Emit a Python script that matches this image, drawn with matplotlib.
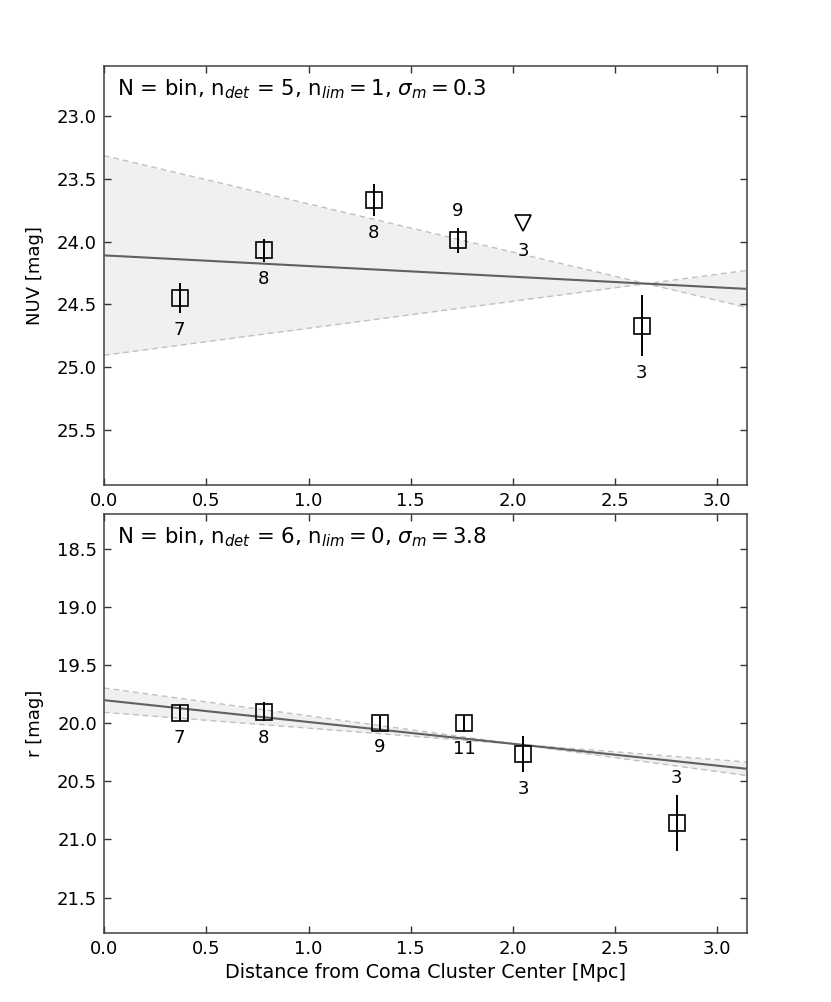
import matplotlib
matplotlib.use('Agg')
import matplotlib.pyplot as plt
import numpy as np

# ---------------- data: NUV panel ----------------
nuv_x = [0.37, 0.78, 1.32, 1.73, 2.63]
nuv_y = [24.45, 24.07, 23.67, 23.99, 24.67]
nuv_err = [0.12, 0.09, 0.13, 0.10, 0.245]
nuv_n = [7, 8, 8, 9, 3]
nuv_label_above = [False, False, False, True, False]
nuv_lim_x = [2.05]
nuv_lim_y = [23.85]
nuv_lim_n = [3]
nuv_fit_intercept = 24.11
nuv_fit_slope = 0.085
nuv_fit_pivot = 2.652
nuv_fit_slope_err = 0.30
nuv_title = r"N = bin, n$_{det}$ = 5, n$_{lim} = 1$, $\sigma_m = 0.3$"

# ---------------- data: r panel ----------------
r_x = [0.37, 0.78, 1.35, 1.76, 2.05, 2.80]
r_y = [19.91, 19.90, 20.00, 20.00, 20.265, 20.86]
r_err = [0.07, 0.08, 0.06, 0.07, 0.155, 0.24]
r_n = [7, 8, 9, 11, 3, 3]
r_label_above = [False, False, False, False, False, True]
r_fit_intercept = 19.80
r_fit_slope = 0.188
r_fit_pivot = 2.02
r_fit_slope_err = 0.052
r_title = r"N = bin, n$_{det}$ = 6, n$_{lim} = 0$, $\sigma_m = 3.8$"

x_ticks = [0.0, 0.5, 1.0, 1.5, 2.0, 2.5, 3.0]
nuv_ticks = [23.0, 23.5, 24.0, 24.5, 25.0, 25.5]
r_ticks = [18.5, 19.0, 19.5, 20.0, 20.5, 21.0, 21.5]

XMAX = 3.145
TICK_FS = 13
LABEL_FS = 13

fig = plt.figure(figsize=(8.31, 10.02), dpi=100)
ax1 = fig.add_axes([0.1252, 0.5160, 0.7738, 0.4182])
ax2 = fig.add_axes([0.1252, 0.0689, 0.7738, 0.4182])


def draw_panel(ax, xs, ys, errs, ns, above, intercept, slope, pivot, serr,
               ylim, yticks, ylabel, title,
               lim_x=None, lim_y=None, lim_n=None):
    ax.set_xlim(0, XMAX)
    ax.set_ylim(*ylim)
    xx = np.linspace(0, XMAX, 200)
    yfit = intercept + slope * xx
    ya = yfit + serr * (xx - pivot)
    yb = yfit - serr * (xx - pivot)
    ax.fill_between(xx, ya, yb, color='#f0f0f0', lw=0, zorder=1)
    ax.plot(xx, ya, ls=(0, (4, 3)), color='#c4bebe', lw=1.0, zorder=2)
    ax.plot(xx, yb, ls=(0, (4, 3)), color='#c4bebe', lw=1.0, zorder=2)
    ax.plot(xx, yfit, color='#606060', lw=1.5, zorder=3)

    ax.errorbar(xs, ys, yerr=errs, fmt='s', mfc='none', mec='black',
                mew=1.2, ms=11.5, ecolor='black', elinewidth=1.4,
                capsize=0, zorder=5)
    for x, y, e, n, ab in zip(xs, ys, errs, ns, above):
        if ab:
            ax.annotate(str(n), xy=(x, y - e), xytext=(0, 17),
                        textcoords='offset pixels', ha='center', va='center',
                        fontsize=LABEL_FS)
        else:
            ax.annotate(str(n), xy=(x, y + e), xytext=(0, -17),
                        textcoords='offset pixels', ha='center', va='center',
                        fontsize=LABEL_FS)
    if lim_x is not None:
        ax.plot(lim_x, lim_y, 'v', mfc='none', mec='black', mew=1.2,
                ms=11.5, zorder=5)
        for x, y, n in zip(lim_x, lim_y, lim_n):
            ax.annotate(str(n), xy=(x, y), xytext=(0, -28),
                        textcoords='offset pixels', ha='center', va='center',
                        fontsize=LABEL_FS)

    ax.set_xticks(x_ticks)
    ax.set_xticklabels([f"{t:.1f}" for t in x_ticks])
    ax.set_yticks(yticks)
    ax.set_yticklabels([f"{t:.1f}" for t in yticks])
    ax.tick_params(direction='in', top=True, right=True, length=5,
                   width=1.0, labelsize=TICK_FS, color='#333333', pad=5)
    for s in ax.spines.values():
        s.set_color('#404040')
        s.set_linewidth(1.1)
    ax.set_ylabel(ylabel, fontsize=13)
    ax.yaxis.set_label_coords(-0.094, 0.5)
    ax.text(0.0202, 0.929, title, transform=ax.transAxes, fontsize=15.3,
            ha='left', va='baseline', zorder=6)


draw_panel(ax1, nuv_x, nuv_y, nuv_err, nuv_n, nuv_label_above,
           nuv_fit_intercept, nuv_fit_slope, nuv_fit_pivot, nuv_fit_slope_err,
           (25.94, 22.6), nuv_ticks, 'NUV [mag]', nuv_title,
           nuv_lim_x, nuv_lim_y, nuv_lim_n)
draw_panel(ax2, r_x, r_y, r_err, r_n, r_label_above,
           r_fit_intercept, r_fit_slope, r_fit_pivot, r_fit_slope_err,
           (21.805, 18.196), r_ticks, 'r [mag]', r_title)
ax2.set_xlabel('Distance from Coma Cluster Center [Mpc]', fontsize=13.8)

fig.savefig('out.png', dpi=100)
